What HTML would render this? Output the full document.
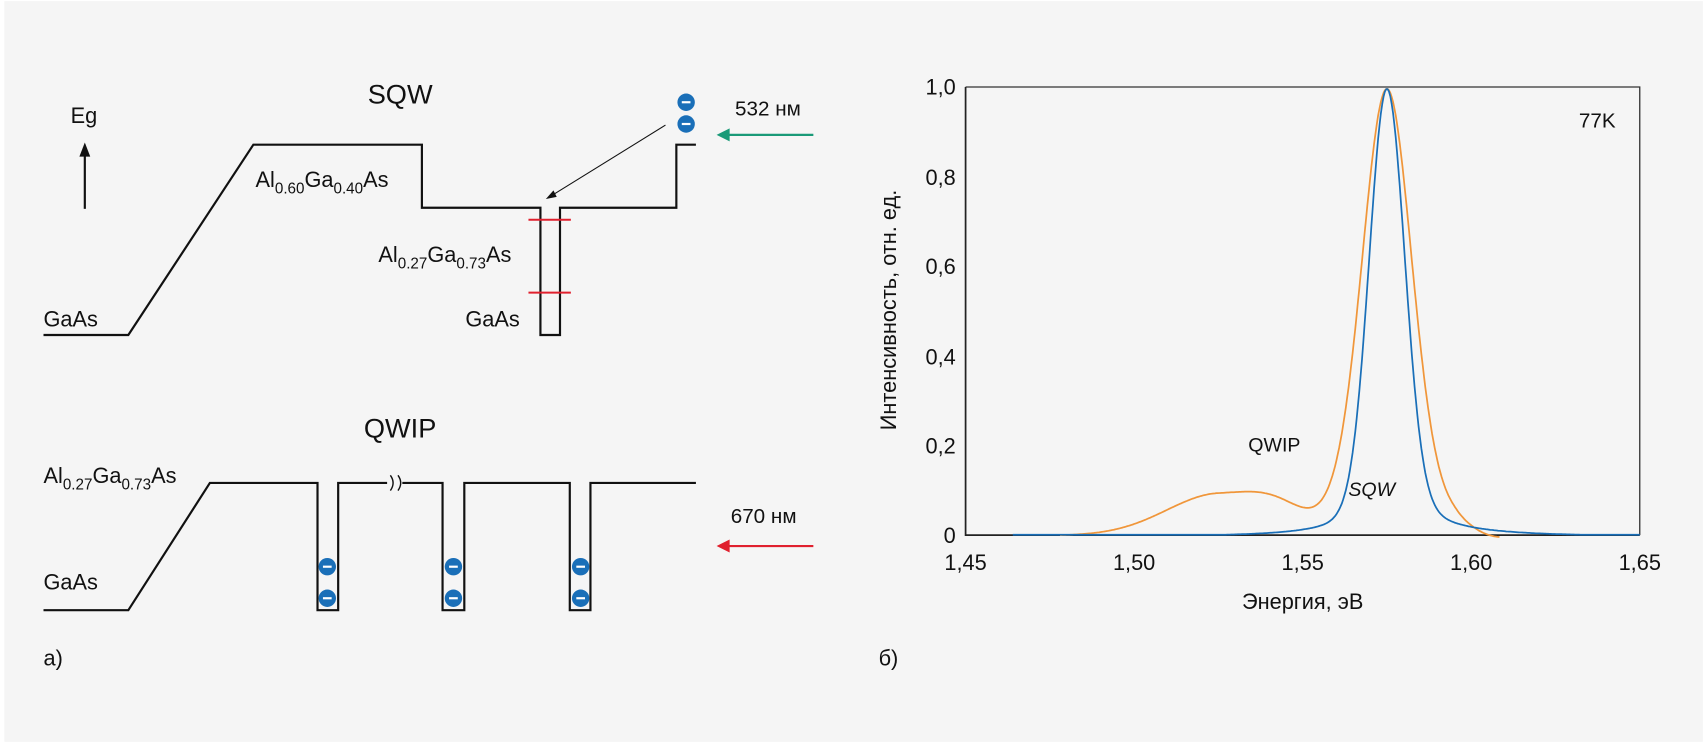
<!DOCTYPE html>
<html><head><meta charset="utf-8"><style>
html,body{margin:0;padding:0;background:#fff}
svg{display:block}
text{font-family:"Liberation Sans",sans-serif;fill:#111}
</style></head><body>
<svg width="1705" height="744" viewBox="0 0 1568 684" preserveAspectRatio="none" xmlns="http://www.w3.org/2000/svg">
<rect x="4" y="1" width="1562" height="681" fill="#f5f5f5"/>
<g fill="none" stroke="#111" stroke-width="2">
<polyline points="40,308 118,308 233,133 388,133 388,191 497,191 497,308 515,308 515,191 622,191 622,133 640,133"/>
<polyline points="40,561 118,561 193,444 292,444 292,561 311,561 311,444 407,444 407,561 427,561 427,444 524,444 524,561 543,561 543,444 640,444"/>
</g>
<rect x="356" y="436" width="14" height="16" fill="#f5f5f5"/>
<path d="M359,437 q5,7 0,14 M366,437 q5,7 0,14" stroke="#111" stroke-width="1.3" fill="none"/>
<g stroke="#e0202e" stroke-width="1.8"><line x1="486" y1="202" x2="525" y2="202"/><line x1="486" y1="269" x2="525" y2="269"/></g>
<line x1="78" y1="192" x2="78" y2="142" stroke="#111" stroke-width="2"/>
<polygon points="78,131 73,144 83,144" fill="#111"/>
<line x1="612" y1="115" x2="507" y2="180" stroke="#111" stroke-width="1"/>
<polygon points="502,183 509,175 512,181" fill="#111"/>
<line x1="748" y1="124" x2="668" y2="124" stroke="#1a9a78" stroke-width="2"/>
<polygon points="659,124 671,118 671,130" fill="#1a9a78"/>
<line x1="748" y1="502" x2="668" y2="502" stroke="#e0202e" stroke-width="2"/>
<polygon points="659,502 671,496 671,508" fill="#e0202e"/>
<g fill="#1a6fb8">
<circle cx="631" cy="94" r="8"/><circle cx="631" cy="114" r="8"/>
<circle cx="301" cy="521" r="8"/><circle cx="301" cy="550" r="8"/>
<circle cx="417" cy="521" r="8"/><circle cx="417" cy="550" r="8"/>
<circle cx="534" cy="521" r="8"/><circle cx="534" cy="550" r="8"/>
</g>
<g stroke="#fff" stroke-width="2">
<line x1="627" y1="94" x2="635" y2="94"/><line x1="627" y1="114" x2="635" y2="114"/>
<line x1="297" y1="521" x2="305" y2="521"/><line x1="297" y1="550" x2="305" y2="550"/>
<line x1="413" y1="521" x2="421" y2="521"/><line x1="413" y1="550" x2="421" y2="550"/>
<line x1="530" y1="521" x2="538" y2="521"/><line x1="530" y1="550" x2="538" y2="550"/>
</g>
<text x="368" y="95" font-size="25" text-anchor="middle">SQW</text>
<text x="368" y="402" font-size="25" text-anchor="middle">QWIP</text>
<text x="65" y="113" font-size="20">Eg</text>
<text x="235" y="172" font-size="20">Al<tspan font-size="14" dy="6">0.60</tspan><tspan dy="-6">Ga</tspan><tspan font-size="14" dy="6">0.40</tspan><tspan dy="-6">As</tspan></text>
<text x="348" y="241" font-size="20">Al<tspan font-size="14" dy="6">0.27</tspan><tspan dy="-6">Ga</tspan><tspan font-size="14" dy="6">0.73</tspan><tspan dy="-6">As</tspan></text>
<text x="40" y="444" font-size="20">Al<tspan font-size="14" dy="6">0.27</tspan><tspan dy="-6">Ga</tspan><tspan font-size="14" dy="6">0.73</tspan><tspan dy="-6">As</tspan></text>
<text x="428" y="300" font-size="20">GaAs</text>
<text x="40" y="300" font-size="20">GaAs</text>
<text x="40" y="542" font-size="20">GaAs</text>
<text x="676" y="106" font-size="19">532 нм</text>
<text x="672" y="481" font-size="19">670 нм</text>
<text x="40" y="612" font-size="20">а)</text>
<text x="808" y="612" font-size="20">б)</text>
<g stroke="#333" stroke-width="1.2" fill="none">
<polyline points="888,80 1508,80 1508,492"/>
<polyline points="888,80 888,492 1508,492" stroke="#222" stroke-width="1.6"/>
</g>
<g id="ticks" stroke="#333" stroke-width="1"></g>
<g font-size="20" text-anchor="end">
<text x="879" y="87">1,0</text><text x="879" y="170">0,8</text><text x="879" y="252">0,6</text>
<text x="879" y="335">0,4</text><text x="879" y="417">0,2</text><text x="879" y="499">0</text>
</g>
<g font-size="20" text-anchor="middle">
<text x="888" y="524">1,45</text><text x="1043" y="524">1,50</text><text x="1198" y="524">1,55</text>
<text x="1353" y="524">1,60</text><text x="1508" y="524">1,65</text>
</g>
<text x="1198" y="560" font-size="20" text-anchor="middle">Энергия, эВ</text>
<text transform="translate(824,285) rotate(-90)" font-size="20" text-anchor="middle">Интенсивность, отн. ед.</text>
<text x="1452" y="117" font-size="19">77K</text>
<text x="1148" y="415" font-size="18">QWIP</text>
<text x="1240" y="456" font-size="18" font-style="italic">SQW</text>
<path id="qw" fill="none" stroke="#f0963a" stroke-width="1.6"/>
<path id="sq" fill="none" stroke="#1a6fb8" stroke-width="1.6"/>
<script>
var X=function(e){return 888+(e-1.45)*3100},Y=function(v){return 492-v*412};
var t=document.getElementById('ticks'),s='';
for(var i=1;i<10;i++){var y=Y(i/10);s+='<line x1="888" y1="'+y+'" x2="'+(i%2?894:898)+'" y2="'+y+'"/>';}
for(var e=1.475;e<1.65;e+=0.025){var x=X(e);s+='<line x1="'+x+'" y1="492" x2="'+x+'" y2="486"/>';}
t.innerHTML=s;
function ss(a,b,x){var t=Math.min(1,Math.max(0,(x-a)/(b-a)));return t*t*(3-2*t);}
function sq(E){var d=E-1.575;var g=0.88*Math.exp(-d*d/(2*0.0052*0.0052));var gm=d<0?0.01:0.012;return g+0.12*gm*gm/(d*d+gm*gm)-0.004;}
function qw(E){var d=E-1.575;var g=0.8*Math.exp(-d*d/(2*0.0072*0.0072));var gm=0.012;var l=0.2*gm*gm/(d*d+gm*gm);
var u=E-1.525,b;if(u<0){b=0.087*Math.exp(-(u/0.022)*(u/0.022));}else{var w=u/0.024;b=0.087*Math.exp(-w*w*w*w);}
var v=g+l+b-0.004;v*= (1-ss(1.594,1.6085,E)*0.999);if(E>1.6)v-=(E-1.6)*0.5;return v;}
function path(f,a,b){var p='';for(var E=a;E<=b+1e-9;E+=0.0004){p+=(p?'L':'M')+X(E).toFixed(1)+','+Y(Math.max(f(E),-0.005)).toFixed(1);}return p;}
document.getElementById('qw').setAttribute('d',path(qw,1.478,1.6085));
document.getElementById('sq').setAttribute('d',path(function(E){return Math.max(sq(E),0.001)},1.464,1.65));
</script>
</svg>
</body></html>
